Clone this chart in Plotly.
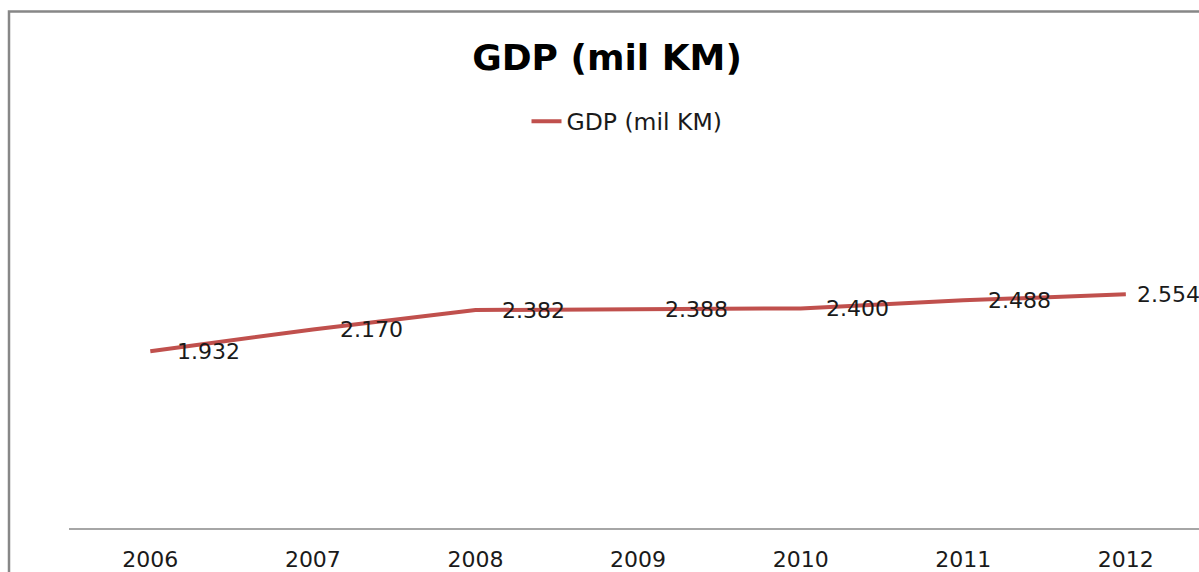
import plotly.graph_objects as go

# Podaci
godine = ["2006", "2007", "2008", "2009", "2010", "2011", "2012"]
gdp = [1932, 2170, 2382, 2388, 2400, 2488, 2554]
naziv = "GDP (mil KM)"

# pomak oznaka udesno (px)
label_xshift = [25, 25, 25, 25, 23, 23, 9]

W, H = 1199, 572
ML, MR, MT, MB = 69, 0, 162, 39
plot_w = W - ML - MR
plot_h = H - MT - MB

CRVENA = "#C0504D"
FONT = "DejaVu Sans"

fig = go.Figure()
fig.add_trace(go.Scatter(
    x=godine,
    y=gdp,
    mode="lines",
    name=naziv,
    line=dict(color=CRVENA, width=4),
    hovertemplate="%{x}<br>%{y:,}<extra></extra>",
))

# Oznake vrijednosti (x kao indeks kategorije)
for i, (v, dx) in enumerate(zip(gdp, label_xshift)):
    fig.add_annotation(
        x=i, y=v, text=f"{v:,}".replace(",", "."),
        showarrow=False, xanchor="left", yanchor="middle",
        xshift=dx, font=dict(family=FONT, size=22, color="#1a1a1a"),
    )

# Okvir grafikona (lijevi i gornji rub vidljivi)
fig.add_shape(
    type="rect", xref="paper", yref="paper",
    x0=(9 - ML) / plot_w, x1=1.2,
    y0=-0.3, y1=(H - MB - 9.5) / plot_h,
    line=dict(color="#878787", width=2.5),
    fillcolor="rgba(0,0,0,0)", layer="below",
)

fig.update_layout(
    width=W, height=H,
    separators=",.",
    font=dict(family=FONT, color="#1a1a1a"),
    paper_bgcolor="white",
    plot_bgcolor="white",
    margin=dict(l=ML, r=MR, t=MT, b=MB),
    title=dict(
        text=f"<b>{naziv}</b>",
        x=607 / W, xanchor="center",
        y=1 - 57.5 / H, yanchor="middle",
        font=dict(family=FONT, size=36, color="black"),
    ),
    showlegend=True,
    legend=dict(
        orientation="h",
        x=(627 - ML) / plot_w, xanchor="center",
        y=(H - MB - 121) / plot_h, yanchor="middle",
        font=dict(family=FONT, size=23.5, color="#1a1a1a"),
        bgcolor="rgba(0,0,0,0)",
    ),
    xaxis=dict(
        type="category",
        range=[-0.5, 6.45],
        showline=True, linecolor="#A6A6A6", linewidth=1.5,
        showgrid=False, ticks="", zeroline=False,
        tickfont=dict(family=FONT, size=22, color="#1a1a1a"),
        ticklabelstandoff=11,
    ),
    yaxis=dict(
        range=[0, 4000],
        visible=False,
        showgrid=False, zeroline=False,
    ),
)

fig.write_html(
    "out.html",
    config={"displayModeBar": False},
    post_script="document.body.style.margin='0';",
)
